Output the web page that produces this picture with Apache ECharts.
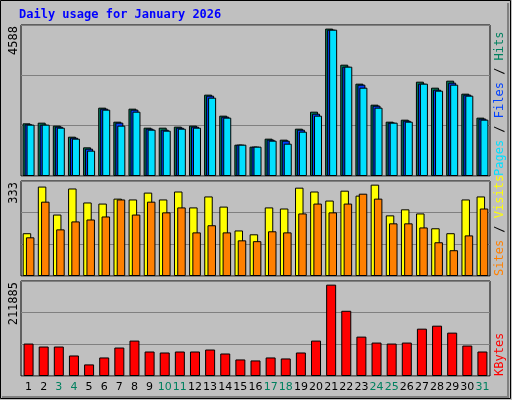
<!DOCTYPE html>
<html><head><meta charset="utf-8">
<script src="https://cdn.jsdelivr.net/npm/echarts@6/dist/echarts.min.js"></script>
<style>html,body{margin:0;padding:0;background:#C0C0C0}#c{width:512px;height:400px}</style>
</head><body><div id="c"></div>
<script>
const days = ['1','2','3','4','5','6','7','8','9','10','11','12','13','14','15','16','17','18','19','20','21','22','23','24','25','26','27','28','29','30','31'];
const weekend = ['3','4','10','11','17','18','24','25','31'];
const hits = [1639,1660,1567,1224,892,2127,1691,2096,1504,1504,1536,1567,2532,1878,975,913,1162,1131,1473,2002,4588,3465,2874,2220,1691,1753,2936,2749,2967,2563,1816];
const files = [1608,1598,1536,1193,851,2096,1660,2065,1473,1442,1504,1536,2500,1847,975,913,1131,1100,1442,1940,4555,3403,2843,2189,1660,1722,2874,2687,2905,2532,1785];
const pages = [1598,1598,1504,1162,789,2065,1567,2002,1442,1411,1473,1504,2438,1816,975,913,1100,1006,1380,1878,4555,3403,2749,2127,1660,1691,2874,2656,2843,2500,1753];
const sites = [156,326,224,319,268,264,282,279,304,279,308,250,290,253,166,152,250,246,322,308,275,311,293,333,221,243,228,174,156,279,290];
const visits = [141,271,170,199,206,217,279,224,271,232,250,159,185,159,130,127,163,159,228,264,232,264,300,282,192,192,177,123,94,148,246];
const kbytes = [75235,68325,68325,47597,26870,42991,66022,82144,56810,54507,56810,56810,61416,52204,38385,36082,42991,40688,54507,82144,211885,151237,91356,77538,75235,77538,109781,116690,100569,70628,56810];
const maxLabels = ['4588','333','211885'];

const chart = echarts.init(document.getElementById('c'));
const grids = [
  {left:21, top:25, width:469, height:151},
  {left:21, top:181, width:469, height:95},
  {left:21, top:281, width:469, height:95}
];
const maxes = [4700, 346.3, 220330];
const bs = {borderColor:'#000', borderWidth:1};
function xa(i, show){return {type:'category', gridIndex:i, data:days, axisLine:{show:false}, axisTick:{show:false},
  axisLabel:{show:show, margin:6, fontFamily:'DejaVu Sans', fontSize:11, interval:0,
    formatter:function(v){return weekend.indexOf(v)>=0?'{w|'+v+'}':'{n|'+v+'}';},
    rich:{n:{color:'#000',fontFamily:'DejaVu Sans',fontSize:11},w:{color:'#00805F',fontFamily:'DejaVu Sans',fontSize:11}}}};}
function ya(i){return {type:'value', gridIndex:i, min:0, max:maxes[i], interval:maxes[i]/3, axisLabel:{show:false}, axisLine:{show:false}, axisTick:{show:false},
  splitLine:{show:true, lineStyle:{color:'#808080', width:1}}};}
function rot(x,y,rich,text,align){return {type:'text', x:x, y:y, rotation:Math.PI/2, style:{text:text, rich:rich, align:align, verticalAlign:'middle', font:'12px DejaVu Sans Mono', fill:'#000'}};}
chart.setOption({
  animation:false,
  backgroundColor:'#C0C0C0',
  grid: grids.map(g=>Object.assign({show:true, backgroundColor:'#C0C0C0', borderColor:'#000', borderWidth:1, containLabel:false}, g)),
  xAxis:[xa(0,false), xa(1,false), xa(2,true)],
  yAxis:[ya(0), ya(1), ya(2)],
  series:[
    {type:'bar', name:'Hits', xAxisIndex:0, yAxisIndex:0, data:hits, barWidth:8, barGap:'-75%', itemStyle:Object.assign({color:'#00805F'},bs)},
    {type:'bar', name:'Files', xAxisIndex:0, yAxisIndex:0, data:files, barWidth:8, barGap:'-75%', itemStyle:Object.assign({color:'#0040FF'},bs)},
    {type:'bar', name:'Pages', xAxisIndex:0, yAxisIndex:0, data:pages, barWidth:8, barGap:'-75%', itemStyle:Object.assign({color:'#00E0FF'},bs)},
    {type:'bar', name:'Sites', xAxisIndex:1, yAxisIndex:1, data:sites, barWidth:8.5, barGap:'-62%', itemStyle:Object.assign({color:'#FFFF00'},bs)},
    {type:'bar', name:'Visits', xAxisIndex:1, yAxisIndex:1, data:visits, barWidth:8.5, barGap:'-62%', itemStyle:Object.assign({color:'#FF8000'},bs)},
    {type:'bar', name:'KBytes', xAxisIndex:2, yAxisIndex:2, data:kbytes, barWidth:10, itemStyle:Object.assign({color:'#FF0000'},bs)}
  ],
  graphic:[
    {type:'rect', shape:{x:0.5,y:0.5,width:510,height:398}, style:{fill:null, stroke:'#000', lineWidth:1}},
    {type:'polyline', shape:{points:[[2,397],[508,397],[508,3]]}, style:{stroke:'#808080', lineWidth:2, fill:null}},
    {type:'text', x:19, y:15, style:{text:'Daily usage for January 2026', font:'bold 12px DejaVu Sans Mono', fill:'#0000FF', verticalAlign:'middle'}},
    rot(14, 26, null, maxLabels[0], 'right'),
    rot(14, 182, null, maxLabels[1], 'right'),
    rot(14, 282, null, maxLabels[2], 'right'),
    {type:'text', x:500, y:176, rotation:Math.PI/2, style:{text:'{p|Pages} / {f|Files} / {h|Hits}', align:'left', verticalAlign:'middle', font:'12px DejaVu Sans Mono', fill:'#000',
      rich:{p:{fill:'#00E0FF',font:'12px DejaVu Sans Mono'},f:{fill:'#0040FF',font:'12px DejaVu Sans Mono'},h:{fill:'#00805F',font:'12px DejaVu Sans Mono'}}}},
    {type:'text', x:500, y:276, rotation:Math.PI/2, style:{text:'{s|Sites} / {v|Visits}', align:'left', verticalAlign:'middle', font:'12px DejaVu Sans Mono', fill:'#000',
      rich:{s:{fill:'#FF8000',font:'12px DejaVu Sans Mono'},v:{fill:'#FFFF00',font:'12px DejaVu Sans Mono'}}}},
    {type:'text', x:500, y:376, rotation:Math.PI/2, style:{text:'KBytes', align:'left', verticalAlign:'middle', font:'12px DejaVu Sans Mono', fill:'#FF0000'}}
  ]
});
</script></body></html>
